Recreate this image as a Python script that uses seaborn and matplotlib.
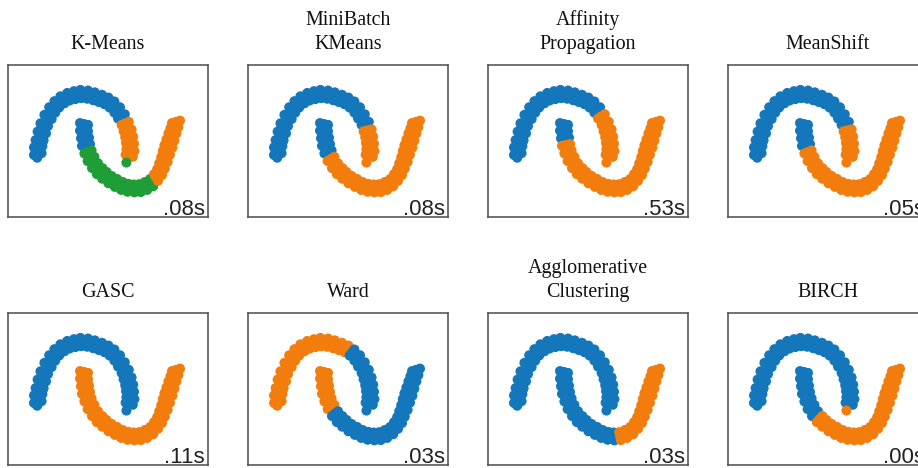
import matplotlib
matplotlib.use("Agg")
import matplotlib.pyplot as plt
import pandas as pd
import seaborn as sns

# Two-moons sample in standardised feature space, listed along each arc.
# *_seg is the arc segment a point belongs to (used for the cluster labels).
upper_x = [-1.85, -1.75, -1.66, -1.77,
           -1.85, -1.73, -1.64,
           -1.81, -1.70, -1.61,
           -1.76, -1.65, -1.55,
           -1.69, -1.59, -1.50,
           -1.59, -1.50, -1.41,
           -1.47, -1.39, -1.32,
           -1.34, -1.28, -1.22,
           -1.19, -1.14, -1.09,
           -1.02, -0.99, -0.96,
           -0.85, -0.83, -0.81,
           -0.69, -0.68, -0.67,
           -0.50, -0.51, -0.52,
           -0.33, -0.35, -0.37,
           -0.15, -0.19, -0.23,
           0.01, -0.04, -0.09,
           0.16, 0.10, 0.04,
           0.30, 0.23, 0.16,
           0.42, 0.33, 0.25,
           0.52, 0.43, 0.34,
           0.59, 0.49, 0.39,
           0.63, 0.53, 0.43,
           0.65, 0.55, 0.45,
           0.66, 0.56, 0.46,
           0.62, 0.53, 0.44,
           0.46]
upper_y = [-0.46, -0.43, -0.40, -0.55,
           -0.21, -0.20, -0.17,
           0.03, 0.05, 0.02,
           0.31, 0.27, 0.25,
           0.58, 0.53, 0.49,
           0.86, 0.79, 0.72,
           1.11, 1.02, 0.93,
           1.31, 1.20, 1.10,
           1.47, 1.35, 1.24,
           1.58, 1.45, 1.33,
           1.64, 1.51, 1.38,
           1.68, 1.54, 1.41,
           1.66, 1.52, 1.39,
           1.60, 1.47, 1.34,
           1.52, 1.40, 1.28,
           1.43, 1.32, 1.21,
           1.30, 1.20, 1.10,
           1.11, 1.02, 0.93,
           0.88, 0.81, 0.74,
           0.63, 0.58, 0.53,
           0.38, 0.35, 0.32,
           0.14, 0.13, 0.12,
           -0.09, -0.08, -0.07,
           -0.33, -0.30, -0.27,
           -0.52, -0.48, -0.45,
           -0.71]
upper_seg = [0, 0, 0, 0] + [s for s in range(1, 25) for _ in range(3)] + [25]

lower_x = [-0.70, -0.60, -0.50,
           -0.70, -0.60, -0.50,
           -0.675, -0.575, -0.475,
           -0.65, -0.55, -0.45,
           -0.59, -0.50, -0.41,
           -0.51, -0.425, -0.34,
           -0.40, -0.325, -0.25,
           -0.28, -0.21, -0.14,
           -0.145, -0.09, -0.035,
           0.01, 0.05, 0.09,
           0.17, 0.20, 0.23,
           0.33, 0.35, 0.37,
           0.49, 0.50, 0.51,
           0.66, 0.65, 0.64,
           0.82, 0.80, 0.78,
           0.98, 0.95, 0.92,
           1.13, 1.09, 1.05,
           1.25, 1.20, 1.15,
           1.35, 1.29, 1.23,
           1.42, 1.35, 1.28,
           1.49, 1.41, 1.33,
           1.55, 1.46, 1.37,
           1.61, 1.51, 1.41,
           1.66, 1.56, 1.46,
           1.71, 1.61, 1.51,
           1.76, 1.66, 1.56,
           1.80, 1.70, 1.60]
lower_y = [0.59, 0.56, 0.53,
           0.34, 0.33, 0.32,
           0.09, 0.10, 0.11,
           -0.16, -0.13, -0.10,
           -0.41, -0.36, -0.31,
           -0.66, -0.59, -0.52,
           -0.89, -0.81, -0.73,
           -1.09, -0.99, -0.89,
           -1.24, -1.13, -1.02,
           -1.39, -1.27, -1.15,
           -1.51, -1.38, -1.25,
           -1.61, -1.48, -1.35,
           -1.67, -1.54, -1.41,
           -1.69, -1.56, -1.43,
           -1.68, -1.55, -1.42,
           -1.61, -1.48, -1.35,
           -1.49, -1.37, -1.25,
           -1.31, -1.20, -1.09,
           -1.12, -1.02, -0.92,
           -0.91, -0.82, -0.73,
           -0.69, -0.61, -0.53,
           -0.45, -0.39, -0.33,
           -0.22, -0.18, -0.14,
           0.01, 0.03, 0.05,
           0.25, 0.25, 0.25,
           0.46, 0.44, 0.42,
           0.67, 0.63, 0.59]
lower_seg = [s for s in range(27) for _ in range(3)]

methods = ["K-Means", "MiniBatch\nKMeans", "Affinity\nPropagation", "MeanShift",
           "GASC", "Ward", "Agglomerative\nClustering", "BIRCH"]
run_times = [".08s", ".08s", ".53s", ".05s", ".11s", ".03s", ".03s", ".00s"]

# cluster id of every arc segment, one character per segment
upper_labels = ["00000000000000000001111112",
                "00000000000000000000111111",
                "00000000000000000011111111",
                "00000000000000000000111111",
                "00000000000000000000000000",
                "11111111111111110000000000",
                "00000000000000000000000000",
                "00000000000000000000000001"]
lower_labels = ["000022222222222221111111111",
                "000001111111111111111111111",
                "000111111111111111111111111",
                "000011111111111111111111111",
                "111111111111111111111111111",
                "111111000000000000000000000",
                "000000000000001111111111111",
                "000000011111111111111111111"]

cluster_colors = {0: "#1477bb", 1: "#f27d0c", 2: "#1f9e38"}

sns.set_theme(style="white")
plt.rcParams["font.family"] = ["DejaVu Sans"]

fig = plt.figure(figsize=(9.18, 4.68), dpi=100)
W, H = 918, 468
col_left = [8, 248, 488, 728]
row_top = [65, 313]
pw, ph = 200, 152

for i, name in enumerate(methods):
    r, c = divmod(i, 4)
    ax = fig.add_axes([col_left[c] / W, 1 - (row_top[r] + ph) / H, pw / W, ph / H])
    up = pd.DataFrame({"x": upper_x, "y": upper_y,
                       "cluster": [int(upper_labels[i][s]) for s in upper_seg]})
    lo = pd.DataFrame({"x": lower_x, "y": lower_y,
                       "cluster": [int(lower_labels[i][s]) for s in lower_seg]})
    df = pd.concat([up, lo], ignore_index=True)
    sns.scatterplot(data=df, x="x", y="y", hue="cluster", palette=cluster_colors,
                    s=52, linewidth=0, legend=False, ax=ax)
    ax.set_xlim(-2.5, 2.5)
    ax.set_ylim(-2.5, 2.5)
    ax.set_xticks([])
    ax.set_yticks([])
    ax.set_xlabel("")
    ax.set_ylabel("")
    for sp in ax.spines.values():
        sp.set_color("#4a4a4a")
        sp.set_linewidth(1.1)
    ax.set_title(name, family="Liberation Serif", fontsize=14.4, pad=11.5,
                 linespacing=1.35, color="#111111")
    ax.text(0.985, 0.01, run_times[i], transform=ax.transAxes, ha="right",
            family="Liberation Sans", fontsize=16, color="#222222")

fig.savefig("out.png", dpi=100)
